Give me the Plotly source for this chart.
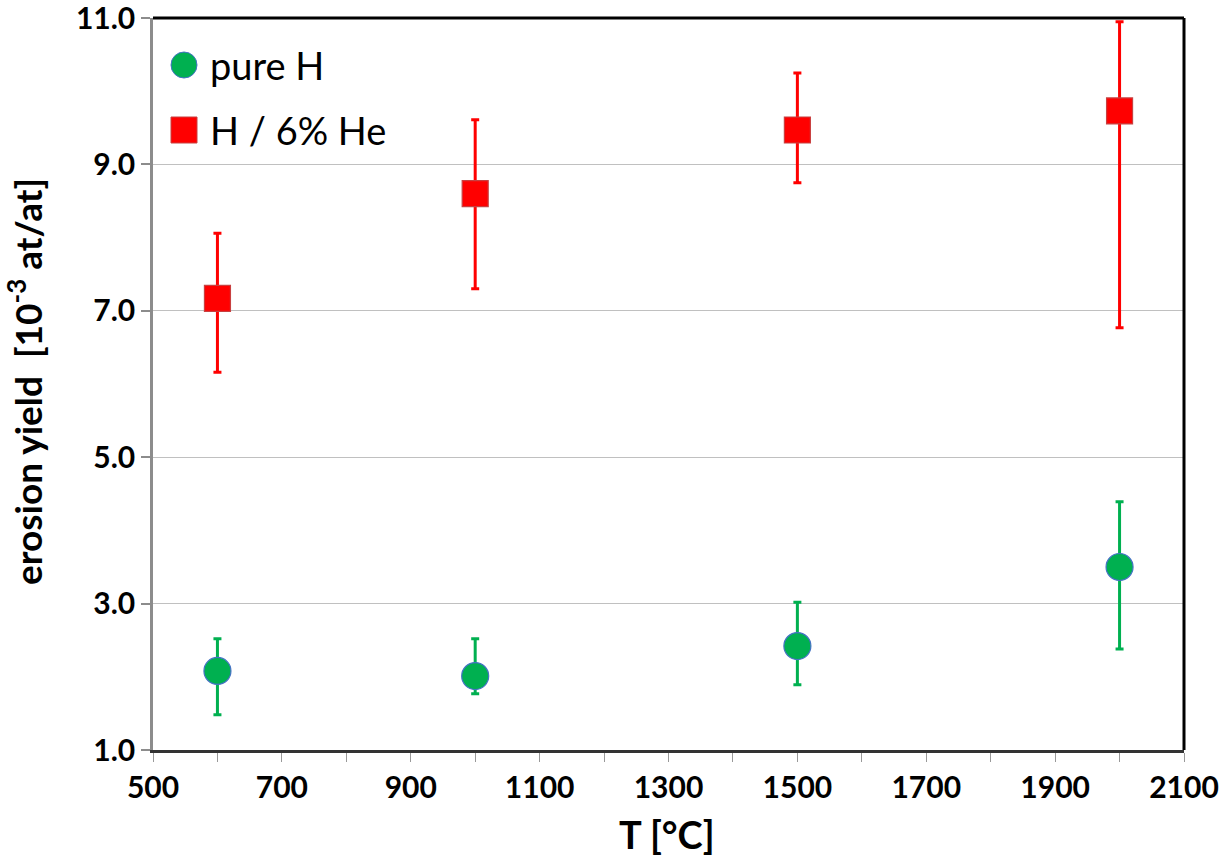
import plotly.graph_objects as go

# ---- data ----
temperature = [600, 1000, 1500, 2000]

pure_h = [2.08, 2.01, 2.42, 3.50]
pure_h_upper = [2.52, 2.52, 3.02, 4.39]
pure_h_lower = [1.48, 1.77, 1.89, 2.38]

h_he = [7.17, 8.60, 9.47, 9.73]
h_he_upper = [8.06, 9.61, 10.25, 10.95]
h_he_lower = [6.16, 7.30, 8.75, 6.77]

x_ticks = [500, 700, 900, 1100, 1300, 1500, 1700, 1900, 2100]
y_ticks = [1.0, 3.0, 5.0, 7.0, 9.0, 11.0]

GREEN = "#00B050"
RED = "#FF0000"
FONT = "Lato"

W, H = 1219, 860
ML, MR, MT, MB = 153, 35, 18, 110
PW, PH = W - ML - MR, H - MT - MB

fig = go.Figure()

fig.add_trace(go.Scatter(
    x=temperature, y=pure_h, mode="markers", name="pure H",
    marker=dict(symbol="circle", size=27, color=GREEN,
                line=dict(color="#4472C4", width=1.2)),
    error_y=dict(type="data", symmetric=False,
                 array=[u - c for u, c in zip(pure_h_upper, pure_h)],
                 arrayminus=[c - l for c, l in zip(pure_h, pure_h_lower)],
                 color=GREEN, thickness=3, width=4),
    showlegend=False,
))

fig.add_trace(go.Scatter(
    x=temperature, y=h_he, mode="markers", name="H / 6% He",
    marker=dict(symbol="square", size=26, color=RED,
                line=dict(color="#C84040", width=1.2)),
    error_y=dict(type="data", symmetric=False,
                 array=[u - c for u, c in zip(h_he_upper, h_he)],
                 arrayminus=[c - l for c, l in zip(h_he, h_he_lower)],
                 color=RED, thickness=3, width=4),
    showlegend=False,
))

# frame: top and right in black
shapes = [
    dict(type="line", xref="paper", yref="paper", x0=0, x1=1, y0=1, y1=1,
         line=dict(color="black", width=3)),
    dict(type="line", xref="paper", yref="paper", x0=1, x1=1, y0=0, y1=1,
         line=dict(color="black", width=3)),
]

# manual legend (pixel-sized symbols)
leg_x = (184 - ML) / PW
leg_y1 = (750 - 65) / PH
leg_y2 = (750 - 130) / PH
shapes.append(dict(type="circle", xref="paper", yref="paper",
                   xsizemode="pixel", ysizemode="pixel",
                   xanchor=leg_x, yanchor=leg_y1, x0=-13, x1=13, y0=-13, y1=13,
                   fillcolor=GREEN, line=dict(color="#4472C4", width=1)))
shapes.append(dict(type="rect", xref="paper", yref="paper",
                   xsizemode="pixel", ysizemode="pixel",
                   xanchor=leg_x, yanchor=leg_y2, x0=-13, x1=13, y0=-13, y1=13,
                   fillcolor=RED, line=dict(color="#C84040", width=1)))

annotations = [
    dict(xref="paper", yref="paper", x=(208 - ML) / PW, y=leg_y1,
         xanchor="left", yanchor="middle", text="pure H", showarrow=False,
         font=dict(family=FONT, size=38, color="black")),
    dict(xref="paper", yref="paper", x=(208 - ML) / PW, y=leg_y2,
         xanchor="left", yanchor="middle", text="H / 6% He", showarrow=False,
         font=dict(family=FONT, size=38, color="black")),
    dict(xref="paper", yref="paper", x=0, y=(750 - 382) / PH, xshift=-(ML - 25),
         xanchor="center", yanchor="middle", textangle=-90, showarrow=False,
         text="erosion yield  [10<sup>-3</sup> at/at]",
         font=dict(family=FONT, size=37, color="black", weight="bold")),
    dict(xref="paper", yref="paper", x=(667 - ML) / PW, y=0, yshift=-(834 - 750),
         xanchor="center", yanchor="middle", showarrow=False,
         text="T [°C]",
         font=dict(family=FONT, size=38, color="black", weight="bold")),
]

fig.update_layout(
    width=W, height=H,
    margin=dict(l=ML, r=MR, t=MT, b=MB, autoexpand=False),
    paper_bgcolor="white", plot_bgcolor="white",
    showlegend=False,
    shapes=shapes, annotations=annotations,
    xaxis=dict(
        range=[500, 2100], tickvals=x_ticks, ticktext=[str(v) for v in x_ticks],
        showgrid=False, zeroline=False, automargin=False,
        ticklabeloverflow="allow",
        showline=True, linecolor="#333333", linewidth=2.5,
        ticks="outside", ticklen=9, tickcolor="#999999", tickwidth=1.3,
        minor=dict(ticks="outside", ticklen=9, dtick=100, tick0=500,
                   tickcolor="#999999", tickwidth=1.3, showgrid=False),
        tickfont=dict(family=FONT, size=30, color="black", weight="bold"),
    ),
    yaxis=dict(
        range=[1, 11], tickvals=y_ticks, ticktext=[f"{v:.1f}" for v in y_ticks],
        showgrid=True, gridcolor="#C0C0C0", gridwidth=1.2, zeroline=False,
        automargin=False, ticklabeloverflow="allow",
        showline=True, linecolor="#8C8C8C", linewidth=2.5,
        ticks="outside", ticklen=9, tickcolor="#8C8C8C", tickwidth=2,
        tickfont=dict(family=FONT, size=30, color="black", weight="bold"),
    ),
)

fig.write_html("out.html")
